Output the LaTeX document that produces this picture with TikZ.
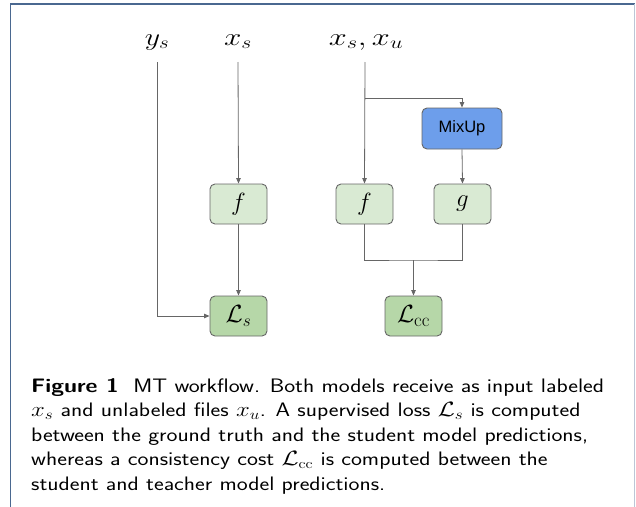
\documentclass[tikz,border=0pt]{standalone}
\usepackage{graphicx}
\usepackage{fontspec}
\newfontfamily\mixfont{Liberation Sans}
\usetikzlibrary{arrows.meta}
\definecolor{lgreen}{HTML}{D9EAD3}
\definecolor{mgreen}{HTML}{B6D7A8}
\definecolor{mblue}{HTML}{6D9EEB}
\definecolor{edgegray}{HTML}{666666}
\definecolor{framedark}{HTML}{4A6890}
\definecolor{framelight}{HTML}{BCC6D6}
\newcommand{\capwide}[1]{\scalebox{1.19}[1]{#1}}
\tikzset{
  box/.style={draw=edgegray, line width=0.9pt, rounded corners=5pt, minimum width=57pt, minimum height=40pt, inner sep=0pt, font=\fontsize{27}{30}\selectfont},
  fbox/.style={box, fill=lgreen},
  lbox/.style={box, fill=mgreen},
  mixbox/.style={box, fill=mblue, minimum width=80pt, minimum height=41pt, font=\mixfont\fontsize{16.5}{18}\selectfont},
  conn/.style={draw=edgegray, line width=0.8pt},
  arr/.style={conn, -{Triangle[length=5.5pt,width=4.5pt]}},
  lab/.style={anchor=base, inner sep=0pt, font=\fontsize{25}{28}\selectfont},
  capline/.style={anchor=base west, inner sep=0pt, font=\sffamily\fontsize{19.5}{24.5}\selectfont}
}
\begin{document}
\begin{tikzpicture}[x=1pt,y=-1pt]
\useasboundingbox (0,0) rectangle (636,506);
% frame
\draw[framedark, line width=1.5pt] (10.5,520) -- (10.5,3.8) -- (634.5,3.8);
\draw[framelight, line width=1.3pt] (634.5,3.8) -- (634.5,520);
% labels
\node[lab] (ys) at (157,45) {\scalebox{1.2}[1]{$y_s$}};
\node[lab] (xs) at (238,45) {\scalebox{1.25}[1]{$x_s$}};
\node[lab] (xsu) at (366,45) {\scalebox{1.3}[1]{$x_s,x_u$}};
\coordinate (ys0) at (157,62);
\coordinate (xs0) at (238,62);
\coordinate (xsu0) at (365,62);
\coordinate (br) at (365,98);
\coordinate (mrg) at (413.5,260);
% boxes
\node[mixbox] (mix) at (462,128.5) {MixUp};
\node[fbox] (f1) at (238.5,204) {$f$};
\node[fbox] (f2) at (364.5,204) {$f$};
\node[fbox] (g) at (462.5,204) {$g$};
\node[lbox] (Ls) at (238.5,316) {$\mathcal{L}_s$};
\node[lbox] (Lcc) at (413.5,316) {$\mathcal{L}_{\mathrm{cc}}$};
% connectors
\draw[arr] (ys0) |- (Ls.west);
\draw[arr] (xs0) -- (f1.north);
\draw[arr] (xsu0) -- (f2.north);
\draw[arr] (br) -| (mix.north);
\draw[arr] (mix.south) -- (g.north);
\draw[arr] (f1.south) -- (Ls.north);
\draw[conn] (f2.south) |- (mrg) -| (g.south);
\draw[arr] (mrg) -- (Lcc.north);
% caption
\node[capline] (cap1) at (31,392) {\capwide{\textbf{Figure 1}\ \ MT workflow. Both models receive as input labeled}};
\node[capline] (cap2) at (31,416.5) {\capwide{$x_s$ and unlabeled files $x_u$. A supervised loss $\mathcal{L}_s$ is computed}};
\node[capline] (cap3) at (31,441) {\capwide{between the ground truth and the student model predictions,}};
\node[capline] (cap4) at (31,465.5) {\capwide{whereas a consistency cost $\mathcal{L}_{\mathrm{cc}}$ is computed between the}};
\node[capline] (cap5) at (31,490) {\capwide{student and teacher model predictions.}};
\end{tikzpicture}
\end{document}
